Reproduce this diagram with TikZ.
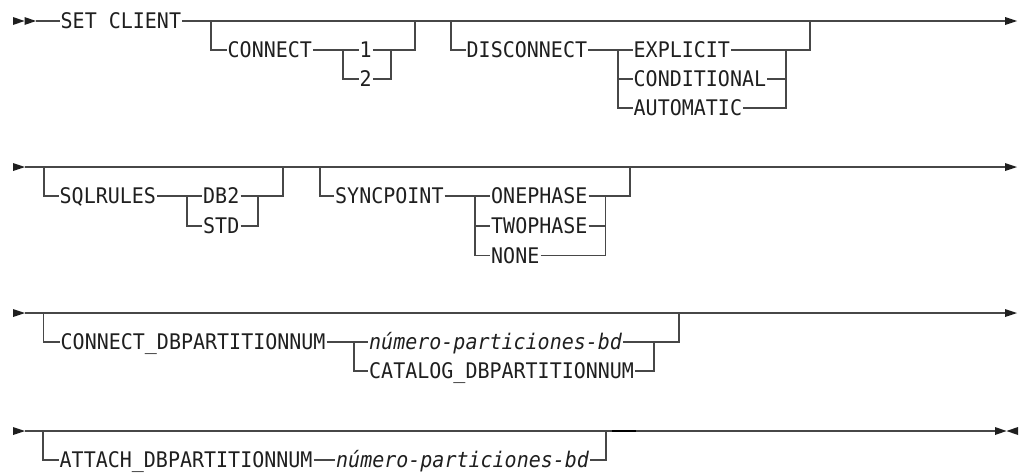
\documentclass[tikz,border=0pt]{standalone}
\usepackage{fontspec}
\newfontfamily\rr{DejaVu Sans Mono}[FakeStretch=0.93]
\begin{document}
\begin{tikzpicture}[x=1pt,y=-1pt,
  rail/.style={line width=1.3pt, draw=black!72},
  kw/.style={font=\rr\fontsize{21.5}{21.5}\selectfont, inner xsep=1pt, inner ysep=0pt,
             text height=15.7pt, text depth=0pt, anchor=west, text=black!88},
  var/.style={kw, font=\rr\itshape\fontsize{21.5}{21.5}\selectfont},
  tri/.style={fill=black!88, draw=none}]
\useasboundingbox (0,0) rectangle (1022,472);

% ---------------- Row 1 ----------------
\fill[tri] (13,17)--(24.5,21)--(13,25)--cycle;
\fill[tri] (24.5,17)--(36,21)--(24.5,25)--cycle;
\coordinate (s1) at (36,21);
\coordinate (e1) at (1005,21);
\node[kw] (set) at (59.5,21) {SET CLIENT};
\draw[rail] (s1) -- (set.west);
\draw[rail] (set.east) -- (e1);
\fill[tri] (1005,17)--(1017,21)--(1005,25)--cycle;

\coordinate (c1a) at (211,21);
\coordinate (c1b) at (415,21);
\coordinate (c1s) at (343,50);
\coordinate (c1m) at (391,50);
\node[kw] (connect) at (226.5,50) {CONNECT};
\node[kw] (one) at (358.5,50) {1};
\node[kw] (two) at (358.5,79) {2};
\draw[rail] (c1a) |- (connect.west);
\draw[rail] (connect.east) -- (one.west);
\draw[rail] (c1s) |- (two.west);
\draw[rail] (one.east) -| (c1b);
\draw[rail] (two.east) -| (c1m);

\coordinate (d1a) at (451,21);
\coordinate (d1b) at (810,21);
\coordinate (d1s) at (618,50);
\coordinate (d1m) at (786,50);
\node[kw] (disc) at (465.5,50) {DISCONNECT};
\node[kw] (expl) at (632.5,50) {EXPLICIT};
\node[kw] (cond) at (632.5,79) {CONDITIONAL};
\node[kw] (auto) at (632.5,108) {AUTOMATIC};
\draw[rail] (d1a) |- (disc.west);
\draw[rail] (disc.east) -- (expl.west);
\draw[rail] (d1s) |- (cond.west);
\draw[rail] (d1s) |- (auto.west);
\draw[rail] (expl.east) -| (d1b);
\draw[rail] (cond.east) -| (d1m);
\draw[rail] (auto.east) -| (d1m);

% ---------------- Row 2 ----------------
\fill[tri] (13,163)--(25,167)--(13,171)--cycle;
\coordinate (s2) at (25,167);
\coordinate (e2) at (1005,167);
\draw[rail] (s2) -- (e2);
\fill[tri] (1005,163)--(1017,167)--(1005,171)--cycle;

\coordinate (q1a) at (44,167);
\coordinate (q1b) at (283,167);
\coordinate (q1s) at (187,196);
\coordinate (q1m) at (258,196);
\node[kw] (sqlr) at (58.5,196) {SQLRULES};
\node[kw] (db2) at (202,196) {DB2};
\node[kw] (std) at (202,226) {STD};
\draw[rail] (q1a) |- (sqlr.west);
\draw[rail] (sqlr.east) -- (db2.west);
\draw[rail] (q1s) |- (std.west);
\draw[rail] (db2.east) -| (q1b);
\draw[rail] (std.east) -| (q1m);

\coordinate (y1a) at (320,167);
\coordinate (y1b) at (630,167);
\coordinate (y1s) at (475,196);
\coordinate (y1m) at (605.5,196);
\node[kw] (sync) at (334,196) {SYNCPOINT};
\node[kw] (onep) at (490,196) {ONEPHASE};
\node[kw] (twop) at (490,226) {TWOPHASE};
\node[kw] (none) at (490,255.5) {NONE};
\draw[rail] (y1a) |- (sync.west);
\draw[rail] (sync.east) -- (onep.west);
\draw[rail] (y1s) |- (twop.west);
\draw[rail] (y1s) |- (none.west);
\draw[rail] (onep.east) -| (y1b);
\draw[rail] (twop.east) -| (y1m);
\draw[rail] (none.east) -| (y1m);

% ---------------- Row 3 ----------------
\fill[tri] (13,309)--(25,313)--(13,317)--cycle;
\coordinate (s3) at (25,313);
\coordinate (e3) at (1005,313);
\draw[rail] (s3) -- (e3);
\fill[tri] (1005,309)--(1017,313)--(1005,317)--cycle;

\coordinate (p1a) at (43.5,313);
\coordinate (p1b) at (679,313);
\coordinate (p1s) at (354,342);
\coordinate (p1m) at (654,342);
\node[kw] (cdb) at (59.5,342) {CONNECT\_DBPARTITIONNUM};
\node[var] (num1) at (368,342) {número-particiones-bd};
\node[kw] (cat) at (368,371) {CATALOG\_DBPARTITIONNUM};
\draw[rail] (p1a) |- (cdb.west);
\draw[rail] (cdb.east) -- (num1.west);
\draw[rail] (p1s) |- (cat.west);
\draw[rail] (num1.east) -| (p1b);
\draw[rail] (cat.east) -| (p1m);

% ---------------- Row 4 ----------------
\fill[tri] (13,427)--(25,431)--(13,435)--cycle;
\coordinate (s4) at (25,431);
\coordinate (e4) at (995,431);
\draw[rail] (s4) -- (e4);
\fill[tri] (995,427)--(1006.5,431)--(995,435)--cycle;
\fill[tri] (1018,427)--(1006.5,431)--(1018,435)--cycle;

\coordinate (a1a) at (43,431);
\coordinate (a1b) at (606,431);
\node[kw] (att) at (58.5,460) {ATTACH\_DBPARTITIONNUM};
\node[var] (num2) at (335,460) {número-particiones-bd};
\draw[rail] (a1a) |- (att.west);
\draw[rail] (att.east) -- (num2.west);
\draw[rail] (num2.east) -| (a1b);
\coordinate (t1) at (612,431);
\coordinate (t2) at (636,431);
\draw[line width=2.2pt, black] (t1) -- (t2);
\end{tikzpicture}
\end{document}
